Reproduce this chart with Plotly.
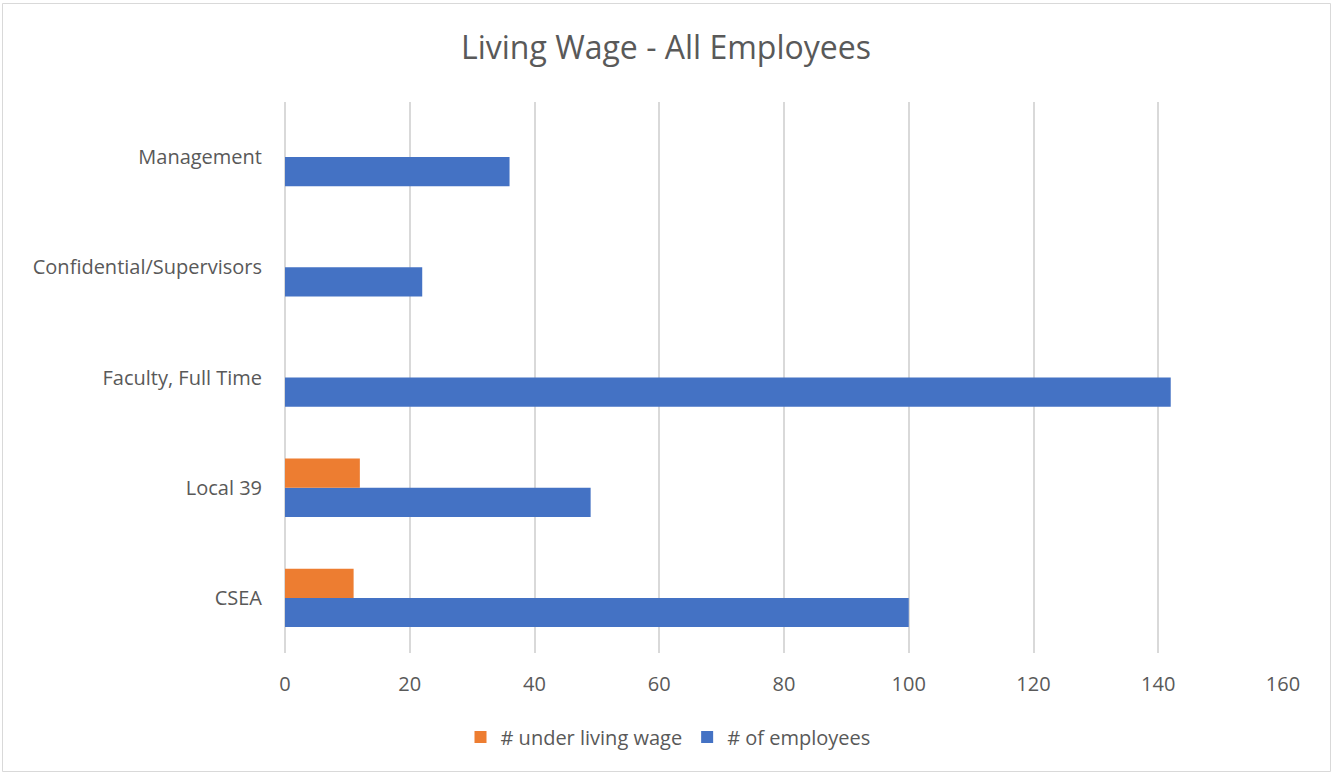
import plotly.graph_objects as go

categories = ["CSEA", "Local 39", "Faculty, Full Time", "Confidential/Supervisors", "Management"]
under_living_wage = [11, 12, 0, 0, 0]
employees = [100, 49, 142, 22, 36]
x_ticks = [0, 20, 40, 60, 80, 100, 120, 140, 160]

W, H = 1332, 774
ML, MR, MT, MB = 285, 49, 102, 121
PW, PH = W - ML - MR, H - MT - MB

font_family = "'Open Sans', 'Noto Sans', sans-serif"
text_color = "#595959"

fig = go.Figure()
fig.add_trace(go.Bar(
    y=categories, x=employees, orientation="h", name="# of employees",
    marker=dict(color="#4472C4", line=dict(width=0)), legendrank=2,
))
fig.add_trace(go.Bar(
    y=categories, x=under_living_wage, orientation="h", name="# under living wage",
    marker=dict(color="#ED7D31", line=dict(width=0)), legendrank=1,
))

def px_to_paper_x(px):
    return (px - ML) / PW

def px_to_paper_y(py):
    return (H - MB - py) / PH

fig.add_shape(type="rect", xref="paper", yref="paper",
              x0=px_to_paper_x(2.5), x1=px_to_paper_x(1330.5),
              y0=px_to_paper_y(771.5), y1=px_to_paper_y(3.5),
              line=dict(color="#D9D9D9", width=1), fillcolor="rgba(0,0,0,0)", layer="below")

fig.update_layout(
    width=W, height=H,
    margin=dict(l=ML, r=MR, t=MT, b=MB, pad=0),
    paper_bgcolor="white", plot_bgcolor="white",
    barmode="group", bargap=0.47, bargroupgap=0,
    title=dict(text="Living Wage - All Employees", x=0.5, xanchor="center",
               y=1 - 48 / H, yanchor="middle",
               font=dict(family=font_family, size=32, color=text_color)),
    font=dict(family=font_family, size=16, color=text_color),
    showlegend=True,
    legend=dict(orientation="h", x=px_to_paper_x(668), xanchor="center",
                y=px_to_paper_y(737), yanchor="middle",
                font=dict(size=20, color=text_color),
                itemwidth=30, tracegroupgap=0, bgcolor="rgba(0,0,0,0)"),
    xaxis=dict(range=[0, 160], tickvals=x_ticks, showgrid=True,
               gridcolor="#D9D9D9", gridwidth=1.5, zeroline=True,
               zerolinecolor="#D9D9D9", zerolinewidth=1.5, showline=False,
               ticks="", ticklabelstandoff=17,
               tickfont=dict(size=20, color=text_color)),
    yaxis=dict(categoryorder="array", categoryarray=categories,
               showgrid=False, zeroline=False, showline=False, ticks="",
               ticklabelstandoff=22,
               tickfont=dict(size=20, color=text_color)),
)

fig.write_html("out.html")
